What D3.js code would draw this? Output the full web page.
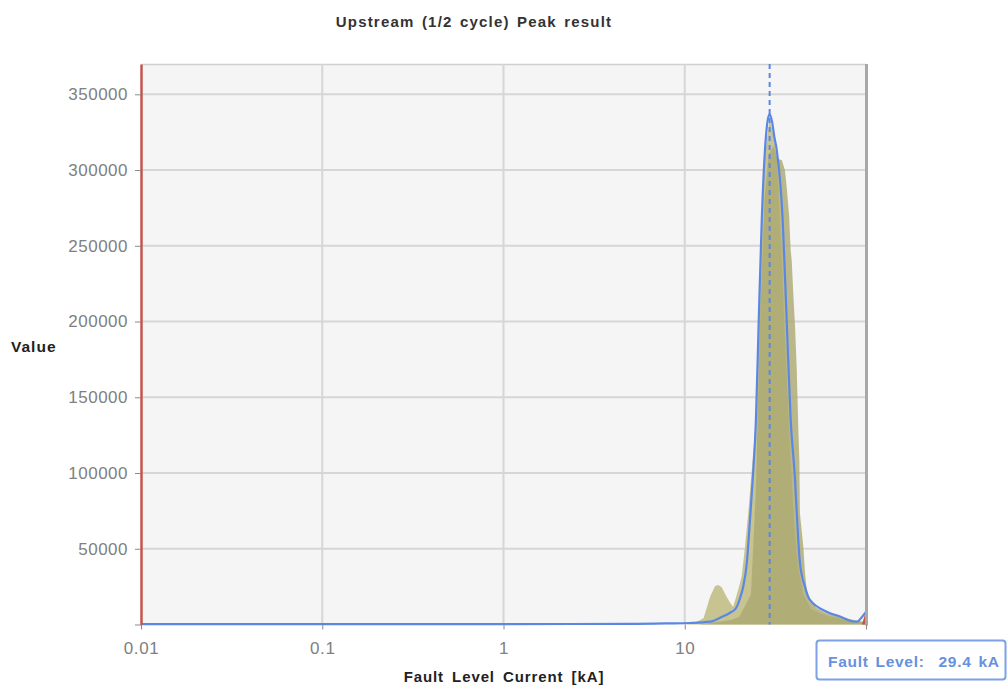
<!DOCTYPE html>
<html>
<head>
<meta charset="utf-8">
<script src="https://cdn.jsdelivr.net/npm/d3@7"></script>
<style>
  body { margin: 0; background: #ffffff; }
  text { font-family: "Liberation Sans", Arial, sans-serif; }
</style>
</head>
<body>
<svg id="chart" width="1008" height="688"></svg>
<script>
// ---- data ----------------------------------------------------------------
const chartTitle = "Upstream (1/2 cycle) Peak result";
const xLabel = "Fault Level Current [kA]";
const yLabel = "Value";
const xTicks = [0.01, 0.1, 1, 10, 100];
const xTickLabels = ["0.01", "0.1", "1", "10", ""];
const yTicks = [0, 50000, 100000, 150000, 200000, 250000, 300000, 350000];
const yTickLabels = ["", "50000", "100000", "150000", "200000", "250000", "300000", "350000"];
const xDomain = [0.01, 100];
const yDomain = [0, 370000];
const faultLevel = 29.4; // kA

// fitted distribution (blue line)
const fitCurrent = [0.01, 1, 5, 8, 10.7, 13.8, 16.0, 17.7, 19.2, 20.2, 21.0, 22.0, 22.9, 23.7, 24.7, 25.6, 26.6, 27.7, 28.6, 29.4, 30.3, 31.2, 32.2, 34.7, 36.5, 38.4, 40.6, 41.5, 43.2, 46.1, 49.1, 61.1, 73.0, 81.6, 89.2, 95.0, 100];
const fitValue   = [300, 300, 400, 700, 1000, 1850, 5000, 7600, 10900, 17500, 24800, 40600, 69000, 95400, 135000, 201000, 267000, 313000, 332000, 337000, 332000, 322000, 313000, 267000, 201000, 135000, 95400, 73600, 40600, 24800, 16200, 8300, 5000, 2500, 1850, 5000, 8300];

// broad histogram envelope (light olive)
const lightCurrent = [10.2, 11.5, 12.7, 13.8, 14.7, 15.3, 16.0, 17.0, 17.8, 18.5, 19.7, 20.6, 21.5, 22.4, 23.2, 24.7, 25.6, 26.6, 27.7, 29.4, 31.0, 32.3, 34.0, 36.0, 38.0, 40.0, 42.0, 45.0, 50.0, 60.0, 80.0, 100];
const lightValue   = [0, 1500, 4100, 18300, 25400, 26100, 24600, 18300, 14400, 11700, 22800, 31600, 51400, 73400, 95400, 135000, 201000, 267000, 310000, 334000, 322000, 308000, 250000, 180000, 120000, 70000, 40000, 20000, 10000, 6000, 3000, 1500];

// right-leaning histogram core (dark olive)
const darkCurrent = [12.0, 18.0, 20.0, 23.2, 24.7, 26.0, 27.5, 29.0, 31.0, 32.3, 33.3, 34.3, 35.7, 36.5, 37.7, 38.4, 38.9, 39.7, 40.6, 41.5, 42.3, 42.9, 43.2, 45.1, 46.1, 47.1, 49.1, 53.5, 60.7, 68.9, 78.3, 88.9, 96.6, 100];
const darkValue   = [0, 3000, 5000, 20000, 90000, 200000, 280000, 310000, 316000, 308000, 307000, 306600, 300000, 289000, 269000, 247000, 240600, 218600, 196600, 168000, 130600, 108600, 73400, 51400, 33800, 22800, 16200, 10700, 7400, 6300, 4100, 2500, 1850, 1500];

// values beyond the upper end of the axis (red)
const overflowCurrent = [95, 100, 100];
const overflowValue   = [0, 9000, 0];

// ---- layout ----------------------------------------------------------------
const svg = d3.select("#chart");
const plot = { left: 141, right: 866, top: 64, bottom: 624.5 };

const x = d3.scaleLog().domain(xDomain).range([plot.left, plot.right]);
const y = d3.scaleLinear().domain(yDomain).range([plot.bottom, plot.top]);

const gridColor = "#d6d6d6";
const tickColor = "#8a8a8a";

// plot background
svg.append("rect")
  .attr("x", plot.left).attr("y", plot.top)
  .attr("width", plot.right - plot.left).attr("height", plot.bottom - plot.top)
  .attr("fill", "#f5f5f5");

// top edge
svg.append("line")
  .attr("x1", plot.left).attr("x2", plot.right)
  .attr("y1", plot.top + 0.5).attr("y2", plot.top + 0.5)
  .attr("stroke", "#d0d0d0").attr("stroke-width", 1.5);

// grid
svg.append("g").selectAll("line")
  .data(yTicks.filter(d => d > 0))
  .join("line")
  .attr("x1", plot.left).attr("x2", plot.right)
  .attr("y1", d => y(d)).attr("y2", d => y(d))
  .attr("stroke", gridColor).attr("stroke-width", 2);

svg.append("g").selectAll("line")
  .data(xTicks.filter(d => d > xDomain[0] && d < xDomain[1]))
  .join("line")
  .attr("x1", d => x(d)).attr("x2", d => x(d))
  .attr("y1", plot.top).attr("y2", plot.bottom)
  .attr("stroke", gridColor).attr("stroke-width", 2);

// ---- series ---------------------------------------------------------------
const zip = (xs, ys) => xs.map((v, i) => ({ x: v, v: ys[i] }));

const area = d3.area()
  .x(d => x(d.x))
  .y0(y(0))
  .y1(d => y(d.v))
  .curve(d3.curveLinear);

svg.append("path")
  .datum(zip(lightCurrent, lightValue))
  .attr("d", area)
  .attr("fill", "#c4c18b")
  .attr("fill-opacity", 0.95);

svg.append("path")
  .datum(zip(darkCurrent, darkValue))
  .attr("d", area)
  .attr("fill", "#aba76f")
  .attr("fill-opacity", 0.8);

svg.append("path")
  .datum(zip(overflowCurrent, overflowValue))
  .attr("d", area)
  .attr("fill", "#c9524a");

// fitted curve
const line = d3.line()
  .x(d => x(d.x))
  .y(d => y(d.v))
  .curve(d3.curveMonotoneX);

svg.append("path")
  .datum(zip(fitCurrent, fitValue))
  .attr("d", line)
  .attr("fill", "none")
  .attr("stroke", "#5b87e4")
  .attr("stroke-width", 2.2);

// fault level marker
svg.append("line")
  .attr("x1", x(faultLevel)).attr("x2", x(faultLevel))
  .attr("y1", plot.top).attr("y2", plot.bottom)
  .attr("stroke", "#5b87e4")
  .attr("stroke-width", 2)
  .attr("stroke-dasharray", "5,4");

// right edge
svg.append("line")
  .attr("x1", plot.right + 0.5).attr("x2", plot.right + 0.5)
  .attr("y1", plot.top).attr("y2", plot.bottom + 1)
  .attr("stroke", "#a8a8a8").attr("stroke-width", 3);

// ---- axes -----------------------------------------------------------------
const tickFont = "'Liberation Sans', Arial, sans-serif";

const xAxis = svg.append("g")
  .attr("transform", `translate(0,${plot.bottom})`)
  .call(d3.axisBottom(x).tickValues(xTicks)
    .tickFormat((d, i) => xTickLabels[i])
    .tickSize(5).tickSizeOuter(0).tickPadding(12));
xAxis.select(".domain").remove();
xAxis.selectAll(".tick line").attr("stroke", tickColor).attr("stroke-width", 1);
xAxis.selectAll(".tick text")
  .attr("fill", "#808080").attr("font-size", 17).attr("letter-spacing", 0.6)
  .attr("font-family", tickFont);

const yAxis = svg.append("g")
  .attr("transform", `translate(${plot.left},0)`)
  .call(d3.axisLeft(y).tickValues(yTicks)
    .tickFormat((d, i) => yTickLabels[i])
    .tickSize(6).tickSizeOuter(0).tickPadding(7));
yAxis.select(".domain").attr("stroke", "#c4544e").attr("stroke-width", 2.5);
yAxis.selectAll(".tick line").attr("stroke", tickColor).attr("stroke-width", 1);
yAxis.selectAll(".tick text")
  .attr("fill", "#808080").attr("font-size", 17).attr("letter-spacing", 0.5)
  .attr("font-family", tickFont);
yAxis.raise();

// ---- titles ---------------------------------------------------------------
svg.append("text")
  .attr("x", 474).attr("y", 27)
  .attr("text-anchor", "middle")
  .attr("font-size", 15).attr("font-weight", "bold")
  .attr("letter-spacing", 1.2).attr("word-spacing", 2)
  .attr("fill", "#333333")
  .text(chartTitle);

svg.append("text")
  .attr("x", 11).attr("y", 352)
  .attr("font-size", 15.5).attr("font-weight", "bold")
  .attr("letter-spacing", 1)
  .attr("fill", "#222222")
  .text(yLabel);

svg.append("text")
  .attr("x", 504).attr("y", 682)
  .attr("text-anchor", "middle")
  .attr("font-size", 15).attr("font-weight", "bold")
  .attr("letter-spacing", 0.9).attr("word-spacing", 3)
  .attr("fill", "#222222")
  .text(xLabel);

// fault level readout
const badge = svg.append("g");
badge.append("rect")
  .attr("x", 816.5).attr("y", 640.5)
  .attr("width", 189).attr("height", 39)
  .attr("rx", 3)
  .attr("fill", "#ffffff")
  .attr("stroke", "#7da0e6").attr("stroke-width", 2);
badge.append("text")
  .attr("x", 828).attr("y", 667)
  .attr("font-size", 15.5).attr("font-weight", "bold")
  .attr("letter-spacing", 0.7).attr("word-spacing", 2)
  .attr("fill", "#6790e0")
  .style("white-space", "pre")
  .text(`Fault Level:  ${faultLevel} kA`);
</script>
</body>
</html>
